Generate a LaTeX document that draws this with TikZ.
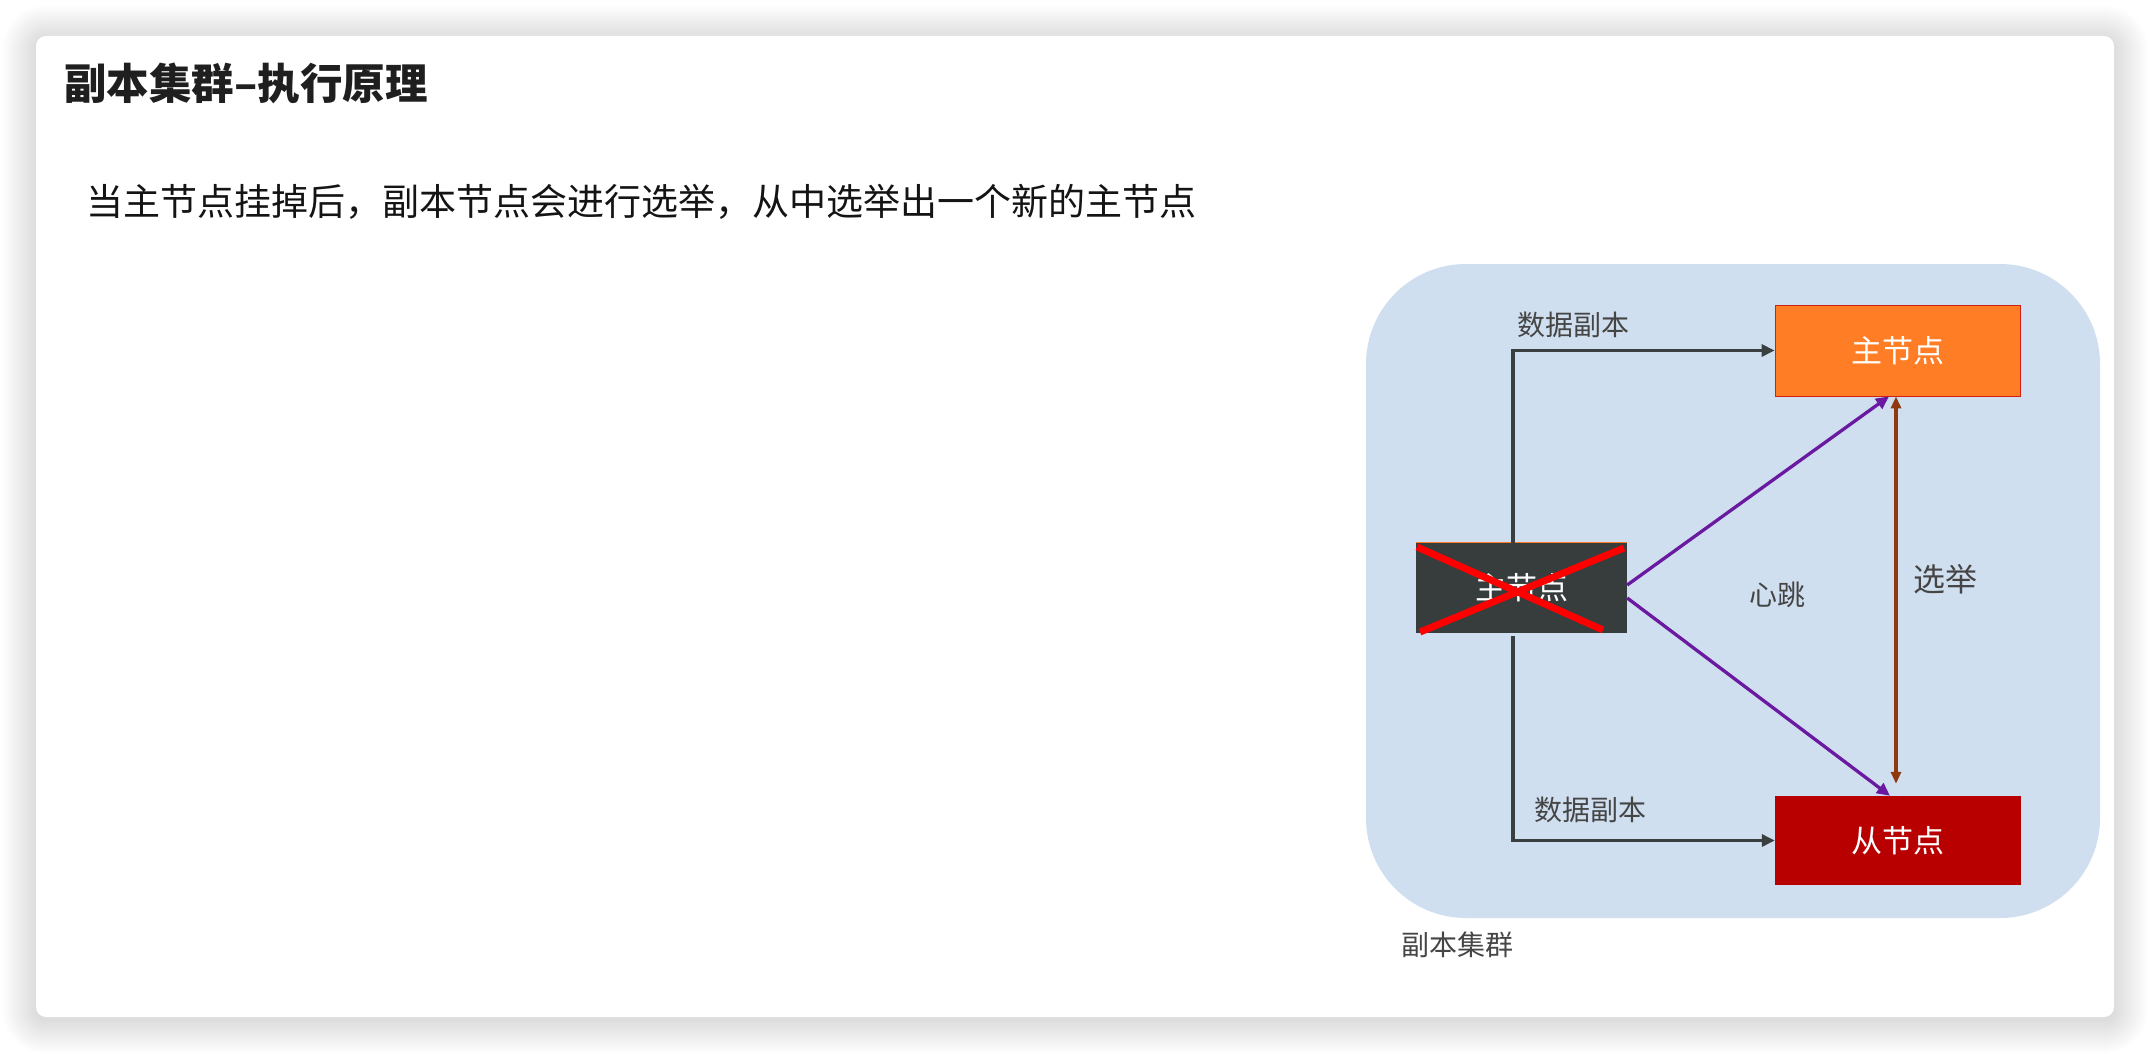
\documentclass[tikz,border=0pt]{standalone}
\usepackage{fontspec}
\setmainfont{Noto Sans CJK SC}
\usetikzlibrary{arrows.meta,calc}
\definecolor{cblue}{HTML}{D0DFEF}
\definecolor{corange}{HTML}{FF7D24}
\definecolor{cbord}{HTML}{D02010}
\definecolor{cred}{HTML}{B80000}
\definecolor{cdark}{HTML}{373D3C}
\definecolor{cline}{HTML}{3A4040}
\definecolor{cpur}{HTML}{6A1AA0}
\definecolor{cbrn}{HTML}{8E3A0E}
\definecolor{ctext}{HTML}{454545}
\begin{document}
\begin{tikzpicture}[x=1pt,y=-1pt,
  box/.style={inner sep=0pt, text=white, font=\fontsize{31}{36}\selectfont},
  lbl/.style={inner sep=0pt, text=ctext, font=\fontsize{28}{32}\selectfont},
  dk/.style={draw=cline, line width=3.3pt, -{Triangle[length=13pt,width=12pt]}},
  pur/.style={draw=cpur, line width=3.3pt, -{Triangle[length=13pt,width=12pt]}},
  brn/.style={draw=cbrn, line width=3.3pt, {Triangle[length=12pt,width=10pt]}-{Triangle[length=12pt,width=10pt]}},
  cross/.style={draw=red, line width=7pt}]
\useasboundingbox (0,0) rectangle (2150,1054);
\fill[white] (0,0) rectangle (2150,1054);
\foreach \i [evaluate=\i as \r using 10+\i] in {1,...,34}
  \fill[black, opacity=0.0055, rounded corners=\r pt] (36-\i,36-\i+3) rectangle (2114+\i,1017+\i+3);
\fill[white, rounded corners=10pt] (36,36) rectangle (2114,1017);

\node[anchor=west, inner sep=0pt, text=black!88, font=\fontsize{42.5}{48}\selectfont\bfseries] (title) at (64,83.5) {副本集群–执行原理};
\node[anchor=west, inner sep=0pt, text=black!92, font=\fontsize{37}{42}\selectfont] (sub) at (86,202) {当主节点挂掉后，副本节点会进行选举，从中选举出一个新的主节点};

\fill[cblue, rounded corners=100pt] (1366,264) rectangle (2100,918);

\node[box, fill=corange, draw=cbord, line width=0.8pt, minimum width=245pt, minimum height=91pt] (master) at (1897.5,350.5) {主节点};
\node[box, fill=cred, minimum width=246pt, minimum height=89pt] (slave) at (1898,840.5) {从节点};
\node[box, fill=cdark, minimum width=211pt, minimum height=90pt] (old) at (1521.5,588) {主节点};
\draw[corange, line width=1pt] (old.north west) -- (old.north east);
\draw[cross] (1417,547) -- (1603,630);
\draw[cross] (1420,632) -- (1624,548);

\draw[dk] ($(old.north)+(-8.5,0)$) |- (master.west);
\draw[dk] ($(old.south)+(-8.5,3)$) |- (slave.west);
\draw[pur] ($(old.east)+(0,-3)$) -- ($(master.south)+(-8.5,0)$);
\draw[pur] ($(old.east)+(0,10)$) -- ($(slave.north)+(-8,0)$);
\draw[brn] ($(master.south)+(-1.5,0)$) -- ($(slave.north)+(-2,-12)$);

\node[lbl] (l1) at (1573,325) {数据副本};
\node[lbl] (l2) at (1590,810) {数据副本};
\node[lbl] (l3) at (1777,595) {心跳};
\node[lbl, font=\fontsize{32}{36}\selectfont] (l4) at (1945,579) {选举};
\node[lbl] (l5) at (1457,945) {副本集群};
\end{tikzpicture}
\end{document}
